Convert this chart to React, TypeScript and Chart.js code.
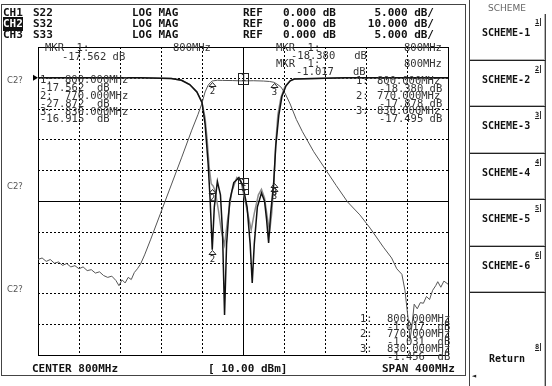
import React, { useEffect, useRef } from "react";
import { Chart, registerables } from "chart.js";
Chart.register(...registerables);

const W = 552;
const H = 386;

// ---- sweep (MHz) ----
const startFreq = 600;
const stopFreq = 1000;
const divisions = 10;
const powerDbm = 10.0;

// ---- channel setup ----
const chNames = ["CH1", "CH2", "CH3"];
const chParams = ["S22", "S32", "S33"];
const chFormats = ["LOG MAG", "LOG MAG", "LOG MAG"];
const chRefs = [0, 0, 0];
const chScales = [5, 10, 5];

// ---- CH2 S32 (10 dB/div) ----
const s32Freq = [600, 604, 608, 612, 616, 620, 624, 628, 632, 636, 640, 644, 648, 652, 656, 660, 664, 668, 672, 676, 679, 682, 685, 688, 691, 694, 697, 700, 704, 710, 720, 730, 740, 750, 756, 760, 763, 766, 768, 770, 775, 780, 790, 800, 810, 820, 826, 830, 833, 837, 841, 846, 852, 858, 869, 880, 891, 902, 914, 924, 937, 945, 950, 955, 958, 961, 963, 965, 967, 970, 973, 976, 979, 982, 985, 988, 990, 993, 996, 1000];
const s32dB = [-59.0, -58.5, -59.6, -59.0, -60.2, -59.8, -60.9, -60.3, -61.4, -61.0, -62.0, -61.4, -62.6, -62.3, -63.4, -63.0, -64.2, -64.8, -64.4, -65.8, -67.5, -65.6, -66.6, -64.8, -65.5, -63.2, -62.0, -60.5, -57.5, -52.4, -43.6, -34.8, -26.0, -17.0, -12.0, -8.2, -4.6, -2.4, -1.6, -1.03, -0.8, -0.85, -0.9, -1.02, -0.95, -1.05, -1.2, -1.46, -2.0, -3.0, -5.0, -8.5, -13.5, -17.5, -24.0, -29.5, -35.0, -40.3, -44.5, -48.8, -55.0, -58.5, -62.0, -63.8, -69.0, -78.0, -85.0, -80.0, -73.5, -75.0, -73.0, -73.2, -71.0, -72.0, -69.0, -67.5, -66.2, -68.0, -66.0, -67.0];

// ---- CH1 S22 (5 dB/div) ----
const s22Freq = [600, 700, 730, 740, 748, 755, 760, 763, 766, 768, 770, 772, 775, 778, 780, 782, 784, 787, 791, 796, 800, 804, 807, 809, 811, 814, 818, 821, 823, 825, 827, 830, 832, 835, 838, 842, 846, 850, 900, 1000];
const s22dB = [0, 0, -0.1, -0.4, -1.1, -2.3, -4.0, -7.5, -14, -20, -27.9, -21, -16.8, -19, -25, -38.5, -27, -20, -17, -16.2, -17.56, -21, -27, -33.3, -27, -21, -18.7, -20, -23, -26.8, -22, -16.9, -11, -6, -3, -1.3, -0.5, -0.2, 0, 0];

// ---- CH3 S33 (5 dB/div) ----
const s33Freq = [600, 700, 730, 740, 748, 755, 760, 763, 765, 767, 769, 771, 773, 776, 779, 782, 785, 789, 794, 798, 800, 804, 808, 811, 815, 818, 821, 824, 826, 828, 830, 832, 834, 837, 841, 846, 850, 900, 1000];
const s33dB = [0, 0, -0.1, -0.4, -1.1, -2.3, -4.0, -6.5, -10, -14.5, -17.2, -17.6, -18.5, -21.5, -25, -27.1, -23, -18.5, -16.2, -16.8, -18.38, -21.5, -24.7, -22, -19, -18.1, -19.5, -23, -25, -22, -17.5, -10.5, -6, -3.2, -1.4, -0.5, -0.2, 0, 0];

// ---- markers ----
const markerFreqs = [800, 770, 830];
const markerLabels = ["1", "2", "3"];
const s22Mk = [-17.562, -27.872, -16.915];
const s32Mk = [-1.017, -1.031, -1.456];
const s33Mk = [-18.38, -17.878, -17.495];

// ---- softkeys ----
const softLabels = ["SCHEME-1", "SCHEME-2", "SCHEME-3", "SCHEME-4", "SCHEME-5", "SCHEME-6", "Return"];
const softKeys = ["1", "2", "3", "4", "5", "6", "8"];
const softTops = [14, 61, 107, 154, 200, 247, 293];
const softBottoms = [61, 107, 154, 200, 247, 293, 390];

const channels = [
  { freq: s22Freq, db: s22dB, mk: s22Mk, axis: "y5", color: "#111", width: 1.5 },
  { freq: s32Freq, db: s32dB, mk: s32Mk, axis: "y10", color: "#555", width: 1 },
  { freq: s33Freq, db: s33dB, mk: s33Mk, axis: "y5", color: "#8c8c8c", width: 1.5 },
];

const mono = '"DejaVu Sans Mono", monospace';

const analyzerPlugin = {
  id: "analyzer",
  beforeDatasetsDraw(chart: any) {
    const { ctx, chartArea: a, scales } = chart;
    const xs = scales.x;
    const ys = scales.y5;
    const L = Math.round(a.left), R = Math.round(a.right), T = Math.round(a.top), B = Math.round(a.bottom);
    ctx.save();
    ctx.strokeStyle = "#000";
    ctx.lineWidth = 1;
    ctx.setLineDash([2, 2]);
    for (let i = 1; i < divisions; i++) {
      if (i === divisions / 2) continue;
      const f = startFreq + ((stopFreq - startFreq) * i) / divisions;
      const x = Math.round(xs.getPixelForValue(f)) + 0.5;
      ctx.beginPath(); ctx.moveTo(x, T); ctx.lineTo(x, B); ctx.stroke();
      const v = ys.min + ((ys.max - ys.min) * i) / divisions;
      const y = Math.round(ys.getPixelForValue(v)) + 0.5;
      ctx.beginPath(); ctx.moveTo(L, y); ctx.lineTo(R, y); ctx.stroke();
    }
    ctx.setLineDash([]);
    const cx = Math.round(xs.getPixelForValue((startFreq + stopFreq) / 2)) + 0.5;
    const cy = Math.round(ys.getPixelForValue((ys.min + ys.max) / 2)) + 0.5;
    ctx.beginPath(); ctx.moveTo(cx, T); ctx.lineTo(cx, B); ctx.stroke();
    ctx.beginPath(); ctx.moveTo(L, cy); ctx.lineTo(R, cy); ctx.stroke();
    ctx.strokeRect(L + 0.5, T + 0.5, R - L, B - T);
    // reference position arrow
    const ry = ys.getPixelForValue(chRefs[0]);
    ctx.fillStyle = "#000";
    ctx.beginPath(); ctx.moveTo(L - 5, ry - 3); ctx.lineTo(L, ry); ctx.lineTo(L - 5, ry + 3); ctx.closePath(); ctx.fill();
    ctx.restore();
  },
  afterDatasetsDraw(chart: any) {
    const { ctx, scales } = chart;
    const xs = scales.x;
    ctx.save();
    ctx.strokeStyle = "#222";
    ctx.fillStyle = "#222";
    ctx.lineWidth = 1;
    ctx.font = `9px ${mono}`;
    ctx.textAlign = "center";
    ctx.textBaseline = "middle";
    channels.forEach((c) => {
      const ys = scales[c.axis];
      c.mk.forEach((v, i) => {
        const x = Math.round(xs.getPixelForValue(markerFreqs[i])) + 0.5;
        const y = Math.round(ys.getPixelForValue(v)) + 0.5;
        if (i === 0) {
          ctx.strokeRect(x - 5, y - 8, 10, 11);
          ctx.fillText(markerLabels[i], x, y - 2.5);
        } else {
          ctx.beginPath();
          ctx.moveTo(x - 3.5, y + 5); ctx.lineTo(x, y + 1); ctx.lineTo(x + 3.5, y + 5); ctx.closePath();
          ctx.stroke();
          ctx.fillText(markerLabels[i], x, y + 10);
        }
      });
    });
    ctx.restore();
  },
};

type TP = { x?: number; r?: number; y: number; s: string; size?: number; bold?: boolean; color?: string; family?: string; bg?: string };
const Txt = ({ x, r, y, s, size = 10.5, bold = false, color = "#333", family = mono, bg }: TP) => (
  <div
    style={{
      position: "absolute",
      left: x,
      right: r !== undefined ? W - r : undefined,
      top: y - 7,
      height: 14,
      lineHeight: "14px",
      fontFamily: family,
      fontSize: size,
      fontWeight: bold ? "bold" : "normal",
      whiteSpace: "pre",
      color,
      background: bg,
      textAlign: r !== undefined ? "right" : "left",
    }}
  >
    {s}
  </div>
);

const fmtF = (f: number) => `${f.toFixed(3)}MHz`;
const fmtV = (v: number) => `${v.toFixed(3)}`;

export default function App() {
  const ref = useRef<HTMLCanvasElement>(null);
  useEffect(() => {
    const chart = new Chart(ref.current as HTMLCanvasElement, {
      type: "line",
      data: {
        datasets: channels.map((c, k) => ({
          label: chParams[k],
          data: c.freq.map((f, i) => ({ x: f, y: c.db[i] })),
          yAxisID: c.axis,
          borderColor: c.color,
          borderWidth: c.width,
          pointRadius: 0,
          tension: 0,
          fill: false,
          order: k === 0 ? 0 : k === 1 ? 2 : 1,
        })),
      },
      options: {
        responsive: false,
        animation: false,
        events: [],
        layout: { padding: { left: 38, top: 47, right: 104, bottom: 31 } },
        plugins: { legend: { display: false }, tooltip: { enabled: false }, title: { display: false } },
        scales: {
          x: { type: "linear", min: startFreq, max: stopFreq, display: false },
          y5: { type: "linear", min: chRefs[0] - chScales[0] * 9, max: chRefs[0] + chScales[0], display: false },
          y10: { type: "linear", min: chRefs[1] - chScales[1] * 9, max: chRefs[1] + chScales[1], display: false },
        },
      },
      plugins: [analyzerPlugin],
    });
    return () => chart.destroy();
  }, []);

  const rowY = [12.5, 23.5, 34.5];
  const leftListY = [79, 87, 95, 103, 110.5, 118];
  const rightListY = [80, 87.5, 95, 102.5, 110, 117.5];
  const botListY = [318, 325.5, 333, 340.5, 348, 355.5];
  const hs = 11;

  return (
    <div style={{ position: "fixed", left: 0, top: 0, width: W, height: H, background: "#fff", overflow: "hidden" }}>
      <canvas ref={ref} width={W} height={H} style={{ position: "absolute", left: 0, top: 0, width: W, height: H }} />
      {/* screen frame */}
      <div style={{ position: "absolute", left: 1, top: 4, width: 463, height: 370, border: "1px solid #444" }} />
      {/* softkey panel */}
      <div style={{ position: "absolute", left: 469, top: 0, width: 1, height: H, background: "#444" }} />
      {softLabels.map((l, i) => (
        <React.Fragment key={l}>
          <div
            style={{
              position: "absolute",
              left: 470,
              top: softTops[i],
              width: 75,
              height: softBottoms[i] - softTops[i] - 1,
              borderRight: "1px solid #444",
              borderBottom: "1px solid #222",
              boxShadow: "inset -1px -1px 0 #b5b5b5",
            }}
          />
          <Txt x={i === 6 ? 489 : 482} y={i === 6 ? 359 : (softTops[i] + softBottoms[i]) / 2 - 4.5} s={l} size={10} bold color="#111" />
          <div
            style={{
              position: "absolute",
              left: 535,
              top: softTops[i] + (i === 6 ? 50 : 4),
              fontFamily: mono,
              fontSize: 7,
              fontWeight: "bold",
              lineHeight: "8px",
              textDecoration: "underline",
              borderRight: "1px solid #333",
              paddingRight: 1,
              color: "#222",
            }}
          >
            {softKeys[i]}
          </div>
        </React.Fragment>
      ))}
      <Txt x={488} y={8} s="SCHEME" size={9} color="#666" family='"DejaVu Sans", sans-serif' />
      <Txt x={493} y={-4} s="SELECT" size={9} color="#999" family='"DejaVu Sans", sans-serif' />
      <Txt x={303} y={-4} s="800.000 MHz  -18.380 dB" size={10} color="#aaa" />
      <Txt x={472} y={376} s="◄" size={7} color="#222" />

      {/* header */}
      {chNames.map((c, i) => (
        <React.Fragment key={c}>
          <Txt x={3} y={rowY[i]} s={c} size={hs} bold color={i === 1 ? "#fff" : "#111"} bg={i === 1 ? "#111" : undefined} />
          <Txt x={33} y={rowY[i]} s={chParams[i]} size={hs} bold color="#111" />
          <Txt x={132} y={rowY[i]} s={chFormats[i]} size={hs} bold color="#111" />
          <Txt x={243} y={rowY[i]} s="REF" size={hs} bold color="#111" />
          <Txt x={283} y={rowY[i]} s={`${chRefs[i].toFixed(3)} dB`} size={hs} bold color="#111" />
          <Txt r={434} y={rowY[i]} s={`${chScales[i].toFixed(3)} dB/`} size={hs} bold color="#111" />
        </React.Fragment>
      ))}

      {/* C2? labels */}
      {[80, 186, 289].map((y) => (
        <Txt key={y} x={7} y={y} s="C2?" size={8.5} color="#555" family='"DejaVu Sans", sans-serif' />
      ))}

      {/* CH1 readouts (top-left) */}
      <Txt x={45} y={47} s="MKR  1:" />
      <Txt x={173} y={47} s={`${markerFreqs[0]}MHz`} />
      <Txt x={62} y={56} s={`${fmtV(s22Mk[0])} dB`} />
      {markerFreqs.map((f, i) => (
        <React.Fragment key={"l" + i}>
          <Txt x={40} y={leftListY[2 * i]} s={`${markerLabels[i]}:`} />
          <Txt x={65} y={leftListY[2 * i]} s={fmtF(f)} />
          <Txt x={40} y={leftListY[2 * i + 1]} s={`${fmtV(s22Mk[i])}  dB`} />
        </React.Fragment>
      ))}

      {/* CH3 / CH2 active marker (top-right) */}
      <Txt x={276} y={47} s="MKR  1:" />
      <Txt x={404} y={47} s={`${markerFreqs[0]}MHz`} />
      <Txt x={291} y={55} s={`${fmtV(s33Mk[0])}   dB`} />
      <Txt x={276} y={63} s="MKR  1:" />
      <Txt x={404} y={63} s={`${markerFreqs[0]}MHz`} />
      <Txt x={296} y={71} s={`${fmtV(s32Mk[0])}   dB`} />
      {markerFreqs.map((f, i) => (
        <React.Fragment key={"r" + i}>
          <Txt x={356} y={rightListY[2 * i]} s={`${markerLabels[i]}:`} />
          <Txt x={377} y={rightListY[2 * i]} s={fmtF(f)} />
          <Txt x={379} y={rightListY[2 * i + 1]} s={`${fmtV(s33Mk[i])} dB`} />
        </React.Fragment>
      ))}

      {/* CH2 readouts (bottom-right) */}
      {markerFreqs.map((f, i) => (
        <React.Fragment key={"b" + i}>
          <Txt x={360} y={botListY[2 * i]} s={`${markerLabels[i]}:`} />
          <Txt x={387} y={botListY[2 * i]} s={fmtF(f)} />
          <Txt x={387} y={botListY[2 * i + 1]} s={`${fmtV(s32Mk[i])}  dB`} />
        </React.Fragment>
      ))}

      {/* bottom status */}
      <Txt x={32} y={369} s={`CENTER ${(startFreq + stopFreq) / 2}MHz`} size={hs} bold color="#111" />
      <Txt x={208} y={369} s={`[ ${powerDbm.toFixed(2)} dBm]`} size={hs} bold color="#111" />
      <Txt x={382} y={369} s={`SPAN ${stopFreq - startFreq}MHz`} size={hs} bold color="#111" />
    </div>
  );
}
